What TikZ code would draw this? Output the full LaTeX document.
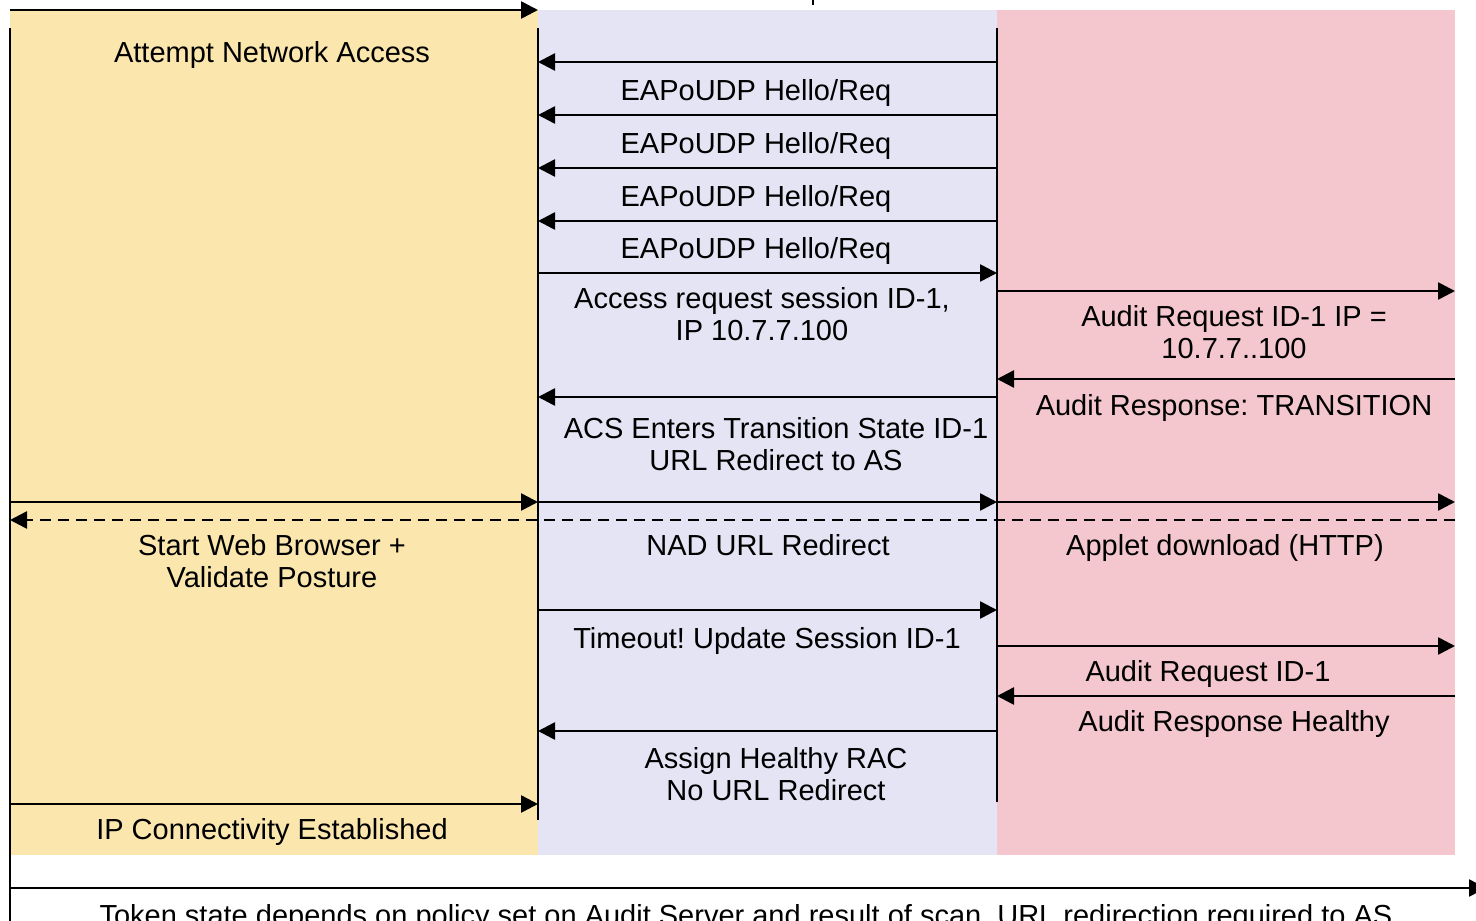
\documentclass[tikz,border=0pt]{standalone}
\usepackage{fontspec}
\setmainfont{Liberation Sans}
\usetikzlibrary{arrows.meta}
\definecolor{clientbg}{HTML}{FBE7AE}
\definecolor{nadbg}{HTML}{E4E4F5}
\definecolor{serverbg}{HTML}{F3C7CD}
\frenchspacing
\begin{document}
\begin{tikzpicture}[x=1pt,y=-1pt,
  msg/.style={line width=2.6pt,-{Triangle[length=17pt,width=17pt]}},
  dashmsg/.style={msg,dash pattern=on 11pt off 7pt},
  lifeline/.style={line width=2.2pt},
  % multi-line labels are placed by the baseline of their last line
  lbl/.style={font=\fontsize{29}{31.5}\selectfont,inner sep=0pt,anchor=base,align=center},
]
\useasboundingbox (0,0) rectangle (1476,921);
\clip (0,0) rectangle (1476,921);

% column backgrounds
\fill[clientbg] (10,10) rectangle (538,855);
\fill[nadbg] (538,10) rectangle (997,855);
\fill[serverbg] (997,10) rectangle (1455,855);

% lifelines
\coordinate (cl) at (10,0);
\coordinate (nad) at (538,0);
\coordinate (acs) at (997,0);
\coordinate (as) at (1455,0);
\coordinate (rim) at (1486,0);
\coordinate (tick) at (813,0);
\draw[lifeline] (cl |- 0,28) -- (cl |- 0,930);
\draw[lifeline] (nad |- 0,28) -- (nad |- 0,820);
\draw[lifeline] (acs |- 0,28) -- (acs |- 0,802);
\draw[lifeline] (tick) -- (tick |- 0,5);

% messages
\draw[msg] (cl |- 0,10) -- (nad |- 0,10);
\node[lbl] (t0) at (272,62) {Attempt Network Access};

\draw[msg] (acs |- 0,62) -- (nad |- 0,62);
\node[lbl] (t1) at (756,100) {EAPoUDP Hello/Req};
\draw[msg] (acs |- 0,115) -- (nad |- 0,115);
\node[lbl] (t2) at (756,153) {EAPoUDP Hello/Req};
\draw[msg] (acs |- 0,168) -- (nad |- 0,168);
\node[lbl] (t3) at (756,206) {EAPoUDP Hello/Req};
\draw[msg] (acs |- 0,221) -- (nad |- 0,221);
\node[lbl] (t4) at (756,258) {EAPoUDP Hello/Req};

\draw[msg] (nad |- 0,273) -- (acs |- 0,273);
\node[lbl] (t5) at (762,340) {Access request session ID-1,\\IP 10.7.7.100};

\draw[msg] (acs |- 0,291) -- (as |- 0,291);
\node[lbl] (t6) at (1234,358) {Audit Request ID-1 IP =\\10.7.7..100};

\draw[msg] (as |- 0,379) -- (acs |- 0,379);
\node[lbl] (t7) at (1234,415) {Audit Response: TRANSITION};

\draw[msg] (acs |- 0,397) -- (nad |- 0,397);
\node[lbl] (t8) at (776,470) {ACS Enters Transition State ID-1\\URL Redirect to AS};

\draw[msg] (cl |- 0,502) -- (nad |- 0,502);
\draw[msg] (nad |- 0,502) -- (acs |- 0,502);
\draw[msg] (acs |- 0,502) -- (as |- 0,502);
\draw[dashmsg] (as |- 0,520) -- (cl |- 0,520);
\node[lbl] (t9) at (272,587) {Start Web Browser +\\Validate Posture};
\node[lbl] (t10) at (768,555) {NAD URL Redirect};
\node[lbl] (t11) at (1225,555) {Applet download (HTTP)};

\draw[msg] (nad |- 0,610) -- (acs |- 0,610);
\node[lbl] (t12) at (767,648) {Timeout! Update Session ID-1};

\draw[msg] (acs |- 0,646) -- (as |- 0,646);
\node[lbl] (t13) at (1208,681) {Audit Request ID-1};

\draw[msg] (as |- 0,696) -- (acs |- 0,696);
\node[lbl] (t14) at (1234,731) {Audit Response Healthy};

\draw[msg] (acs |- 0,731) -- (nad |- 0,731);
\node[lbl] (t15) at (776,800) {Assign Healthy RAC\\No URL Redirect};

\draw[msg] (cl |- 0,804) -- (nad |- 0,804);
\node[lbl] (t16) at (272,839) {IP Connectivity Established};

\draw[msg] (cl |- 0,888) -- (rim |- 0,888);
\node[lbl] (t17) at (746,925) {Token state depends on policy set on Audit Server and result of scan. URL redirection required to AS};
\end{tikzpicture}
\end{document}
